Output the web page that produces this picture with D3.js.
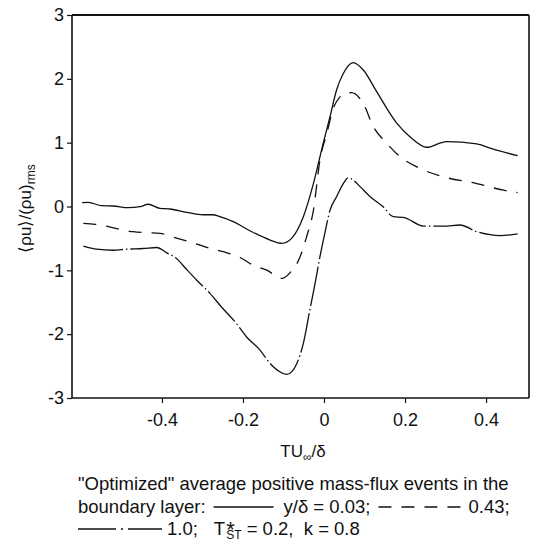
<!DOCTYPE html>
<html>
<head>
<meta charset="utf-8">
<script src="https://cdn.jsdelivr.net/npm/d3@7"></script>
<style>
  html, body { margin: 0; padding: 0; background: #fff; }
  svg { display: block; }
  text { font-family: "Liberation Sans", Arial, Helvetica, sans-serif; fill: #111; }
</style>
</head>
<body>
<svg id="chart" width="533" height="548"></svg>
<script>
// ---- data ----
const xTicks = [-0.4, -0.2, 0, 0.2, 0.4];
const yTicks = [-3, -2, -1, 0, 1, 2, 3];

// y/delta = 0.03 (solid)
const solidT = [-0.597,-0.582,-0.549,-0.520,-0.483,-0.454,-0.434,-0.405,-0.380,-0.339,-0.298,-0.274,-0.257,-0.224,-0.183,-0.133,-0.104,-0.080,-0.051,-0.026,-0.002,0.015,0.031,0.048,0.072,0.097,0.130,0.180,0.212,0.254,0.286,0.303,0.377,0.418,0.478];
const solidV = [0.06,0.066,0.013,0.008,-0.019,-0.003,0.035,-0.028,-0.039,-0.091,-0.129,-0.129,-0.160,-0.238,-0.380,-0.525,-0.577,-0.499,-0.160,0.363,0.99,1.41,1.826,2.088,2.254,2.139,1.80,1.303,1.094,0.928,0.991,1.016,0.980,0.897,0.797];

// y/delta = 0.43 (dashed)
const dashedT = [-0.594,-0.565,-0.537,-0.504,-0.471,-0.442,-0.405,-0.376,-0.339,-0.314,-0.281,-0.249,-0.207,-0.175,-0.141,-0.104,-0.084,-0.059,-0.043,-0.026,-0.010,0.007,0.023,0.040,0.052,0.068,0.097,0.122,0.155,0.188,0.237,0.295,0.377,0.443,0.478];
const dashedV = [-0.263,-0.279,-0.306,-0.357,-0.395,-0.410,-0.420,-0.473,-0.540,-0.588,-0.655,-0.708,-0.799,-0.919,-0.997,-1.127,-1.039,-0.788,-0.475,-0.055,0.729,1.147,1.539,1.721,1.774,1.783,1.61,1.249,0.988,0.779,0.596,0.465,0.360,0.255,0.219];

// y/delta = 1.0 (dash-dot)
const dashDotT = [-0.594,-0.561,-0.520,-0.487,-0.446,-0.413,-0.388,-0.364,-0.339,-0.314,-0.281,-0.253,-0.216,-0.191,-0.158,-0.133,-0.109,-0.092,-0.067,-0.051,-0.035,-0.022,-0.010,0.002,0.015,0.031,0.048,0.060,0.072,0.089,0.114,0.146,0.171,0.196,0.245,0.295,0.336,0.377,0.435,0.478];
const dashDotV = [-0.621,-0.669,-0.685,-0.669,-0.658,-0.642,-0.726,-0.815,-0.987,-1.155,-1.364,-1.574,-1.834,-2.044,-2.249,-2.458,-2.589,-2.630,-2.458,-2.144,-1.622,-1.204,-0.787,-0.42,-0.055,0.153,0.364,0.451,0.415,0.311,0.154,-0.003,-0.160,-0.170,-0.306,-0.306,-0.29,-0.394,-0.455,-0.43];

// ---- layout ----
const W = 533, H = 548;
const margin = { left: 72, top: 15, right: 4, bottom: 150 };
const svg = d3.select("#chart");

const x = d3.scaleLinear().domain([-0.622, 0.506]).range([margin.left, W - margin.right]);
const y = d3.scaleLinear().domain([-3, 3]).range([H - margin.bottom, margin.top]);

const x0 = x.range()[0], x1 = x.range()[1], y0 = y.range()[0], y1 = y.range()[1];

// axes
const gx = svg.append("g").attr("transform", `translate(0,${y0})`)
  .call(d3.axisBottom(x).tickValues(xTicks).tickSize(5).tickPadding(10)
    .tickFormat(d => d === 0 ? "0" : d.toFixed(1)));
gx.select(".domain").remove();
gx.selectAll("text").attr("font-size", 18).attr("font-family", null);
gx.selectAll("line").attr("stroke", "#111").attr("stroke-width", 1.2);

const gy = svg.append("g").attr("transform", `translate(${x0},0)`)
  .call(d3.axisLeft(y).tickValues(yTicks).tickSize(5).tickPadding(3)
    .tickFormat(d => String(d)));
gy.select(".domain").remove();
gy.selectAll("text").attr("font-size", 18).attr("font-family", null);
gy.selectAll("line").attr("stroke", "#111").attr("stroke-width", 1.2);

// frame
svg.append("line").attr("x1", x0).attr("x2", x1).attr("y1", y1).attr("y2", y1)
  .attr("stroke", "#111").attr("stroke-width", 2);
svg.append("line").attr("x1", x0).attr("x2", x1).attr("y1", y0).attr("y2", y0)
  .attr("stroke", "#111").attr("stroke-width", 1.6);
svg.append("line").attr("x1", x0).attr("x2", x0).attr("y1", y1).attr("y2", y0)
  .attr("stroke", "#111").attr("stroke-width", 1.6);
svg.append("line").attr("x1", x1).attr("x2", x1).attr("y1", y1).attr("y2", y0)
  .attr("stroke", "#111").attr("stroke-width", 1.6);

// curves
const line = d3.line().x(d => x(d[0])).y(d => y(d[1])).curve(d3.curveMonotoneX);
const series = [
  { t: solidT, v: solidV, dash: null },
  { t: dashedT, v: dashedV, dash: "13,10" },
  { t: dashDotT, v: dashDotV, dash: "40,3,1.5,3" }
];
series.forEach(s => {
  svg.append("path")
    .datum(d3.zip(s.t, s.v))
    .attr("d", line)
    .attr("fill", "none")
    .attr("stroke", "#111")
    .attr("stroke-width", 1.3)
    .attr("stroke-dasharray", s.dash);
});

// y-axis label
const yl = svg.append("text")
  .attr("transform", `translate(31,${(y0 + y1) / 2 + 2}) rotate(-90)`)
  .attr("text-anchor", "middle")
  .attr("font-size", 17);
yl.append("tspan").text("\u27E8\u03C1u\u27E9/(\u03C1u)");
yl.append("tspan").attr("font-size", 12).attr("dy", 4).text("rms");

// x-axis label
const xl = svg.append("text")
  .attr("x", 303).attr("y", 457)
  .attr("text-anchor", "middle")
  .attr("font-size", 17);
xl.append("tspan").text("TU");
xl.append("tspan").attr("font-size", 12).attr("dy", 4).text("\u221E");
xl.append("tspan").attr("dy", -4).text("/\u03B4");

// caption
const capSize = 18.5;
const capX = 78;
const capY = [490, 513, 535];

function placeText(xp, yp, str, size) {
  const t = svg.append("text").attr("x", xp).attr("y", yp).attr("font-size", size || capSize)
    .style("white-space", "pre").text(str);
  return xp + t.node().getComputedTextLength();
}
function sample(xp, yp, w, dash) {
  svg.append("line").attr("x1", xp).attr("x2", xp + w)
    .attr("y1", yp - 6).attr("y2", yp - 6)
    .attr("stroke", "#111").attr("stroke-width", 1.3)
    .attr("stroke-dasharray", dash);
  return xp + w;
}

placeText(capX, capY[0], "\"Optimized\" average positive mass-flux events in the");

let cx = placeText(capX, capY[1], "boundary layer:");
cx = sample(cx + 8, capY[1], 60, null);
cx = placeText(cx + 10, capY[1], "y/\u03B4 = 0.03;");
cx = sample(cx + 8, capY[1], 84, "13,10");
placeText(cx + 6, capY[1], "0.43;");

cx = sample(capX, capY[2], 84, "38,5,2,5");
cx = placeText(cx + 5, capY[2], "1.0;");
cx += 16;
// T*_ST as one text element (asterisk stacked over the subscript)
const ts = svg.append("text").attr("x", cx).attr("y", capY[2]).attr("font-size", capSize)
  .style("white-space", "pre");
ts.append("tspan").text("T");
ts.append("tspan").attr("dx", 1).attr("dy", 2).attr("font-size", 22).text("*");
const tW = ts.node().getSubStringLength(0, 1);
ts.append("tspan").attr("x", cx + tW + 1).attr("dy", 2).attr("font-size", 12).text("ST");
ts.append("tspan").attr("dy", -4).text(" = 0.2,  k = 0.8");
</script>
</body>
</html>
